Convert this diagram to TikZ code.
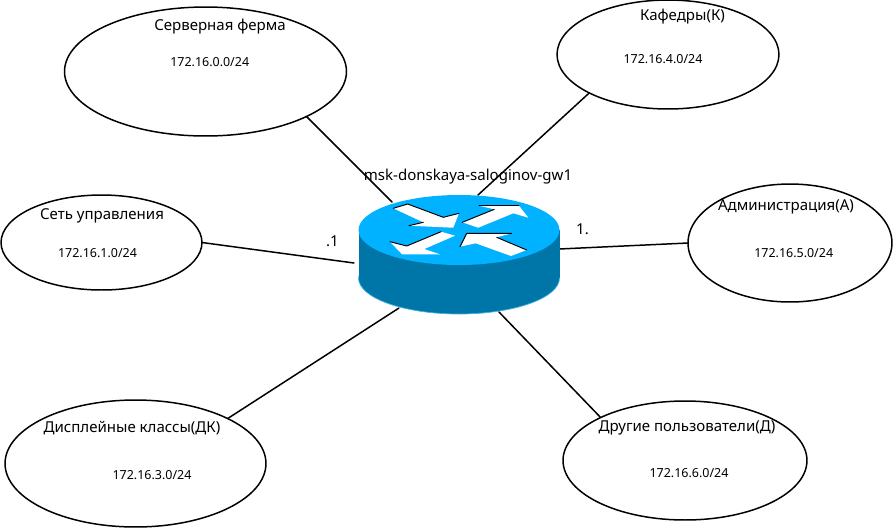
\documentclass[tikz,border=0pt]{standalone}
\usepackage{fontspec}
\setmainfont{Noto Sans}
\usepackage{tikz}
\usetikzlibrary{shapes.geometric}
\definecolor{routerTop}{RGB}{0,178,255}
\definecolor{routerSide}{RGB}{0,118,168}
\definecolor{routerEdge}{RGB}{70,180,225}
\tikzset{
  subnet/.style={draw,ellipse,line width=0.85pt,inner sep=0pt,outer sep=0pt},
  link/.style={line width=0.85pt},
  bigtext/.style={inner sep=0pt,font=\fontsize{8.55}{10}\selectfont},
  smalltext/.style={inner sep=0pt,font=\fontsize{7.1}{8}\selectfont},
  arrowfill/.style={fill=white},
  arrowedge/.style={line width=0.55pt}
}
\begin{document}
\begin{tikzpicture}[line cap=round,line join=round,x=0.02cm,y=-0.02cm]
        \useasboundingbox (0,0) rectangle (894,529);
        \node[subnet,minimum width=5.64cm,minimum height=2.58cm] (server) at (205.5,71.5) {};
        \node[subnet,minimum width=4.02cm,minimum height=1.90cm] (control) at (101.5,242.5) {};
        \node[subnet,minimum width=4.44cm,minimum height=2.18cm] (kafedry) at (668,54.5) {};
        \node[subnet,minimum width=4.08cm,minimum height=2.36cm] (admin) at (790,243) {};
        \node[subnet,minimum width=5.22cm,minimum height=2.54cm] (display) at (135.5,463.5) {};
        \node[subnet,minimum width=4.88cm,minimum height=2.38cm] (other) at (685,460.5) {};
        \coordinate (rtServer) at (392,202);
        \coordinate (rtKafedry) at (478,195);
        \coordinate (rtControl) at (354,263);
        \coordinate (rtAdmin) at (559,249);
        \coordinate (rtDisplay) at (399,308);
        \coordinate (rtOther) at (499,312);
        \draw[link] (server.-24.8) -- (rtServer);
        \draw[link] (kafedry.206.9) -- (rtKafedry);
        \draw[link] (control.east) -- (rtControl);
        \draw[link] (admin.west) -- (rtAdmin);
        \draw[link] (display.26.7) -- (rtDisplay);
        \draw[link] (other.153.7) -- (rtOther);
        % router body
        \fill[routerSide] (459,278) ellipse [x radius=100.5,y radius=36];
        \fill[routerSide] (358.5,230) rectangle (559.5,278);
        \draw[routerEdge,line width=0.4pt] (358.5,278) arc [start angle=180,end angle=0,x radius=100.5,y radius=36];
        \fill[routerTop] (459,230) ellipse [x radius=100.5,y radius=35];
        % router arrows
        \fill[arrowfill] (393.3,208.3) -- (407.7,204) -- (443.3,217.3) -- (459,213.3) -- (453.3,227.7) -- (409,225.7) -- (423.3,222.3) -- cycle;
        \draw[arrowedge] (393.3,208.3) -- (407.7,204) -- (443.3,217.3) -- (459,213.3);
        \draw[arrowedge] (409,225.7) -- (423.3,222.3);
        \fill[arrowfill] (462.3,222.3) -- (494.3,209.3) -- (479,205.7) -- (519,205.7) -- (528.3,217.7) -- (513.3,213.3) -- (478.3,227.7) -- cycle;
        \draw[arrowedge] (462.3,222.3) -- (494.3,209.3);
        \draw[arrowedge] (479,205.7) -- (519,205.7);
        \fill[arrowfill] (455,235.7) -- (424.3,249) -- (440,254.3) -- (402,254.3) -- (390,241.7) -- (406.7,246) -- (441,231.7) -- cycle;
        \draw[arrowedge] (390,241.7) -- (406.7,246) -- (441,231.7);
        \fill[arrowfill] (466.7,233.3) -- (511.7,233.3) -- (496.7,237.3) -- (526.7,250) -- (511,256) -- (475.7,243.3) -- (460,246.7) -- cycle;
        \draw[arrowedge] (460,246.7) -- (466.7,233.3) -- (511.7,233.3);
        \draw[arrowedge] (496.7,237.3) -- (526.7,250);
        % labels
        \node[bigtext] (serverName) at (220,27) {Серверная ферма};
        \node[smalltext] (serverNet) at (209.7,62) {172.16.0.0/24};
        \node[bigtext] (controlName) at (102,216) {Сеть управления};
        \node[smalltext] (controlNet) at (97.5,253) {172.16.1.0/24};
        \node[bigtext] (kafedryName) at (682.5,16.5) {Кафедры(К)};
        \node[smalltext] (kafedryNet) at (663,59) {172.16.4.0/24};
        \node[bigtext] (adminName) at (786,207) {Администрация(А)};
        \node[smalltext] (adminNet) at (793.7,253) {172.16.5.0/24};
        \node[bigtext] (displayName) at (132,428) {Дисплейные классы(ДК)};
        \node[smalltext] (displayNet) at (152,475) {172.16.3.0/24};
        \node[bigtext] (otherName) at (687,428) {Другие пользователи(Д)};
        \node[smalltext] (otherNet) at (689,473) {172.16.6.0/24};
        \node[bigtext] (leftAddr) at (332.5,241) {.1};
        \node[bigtext] (rightAddr) at (582.5,229) {1.};
        \node[bigtext] (routerName) at (468,177) {msk-donskaya-saloginov-gw1};
    \end{tikzpicture}
\end{document}
